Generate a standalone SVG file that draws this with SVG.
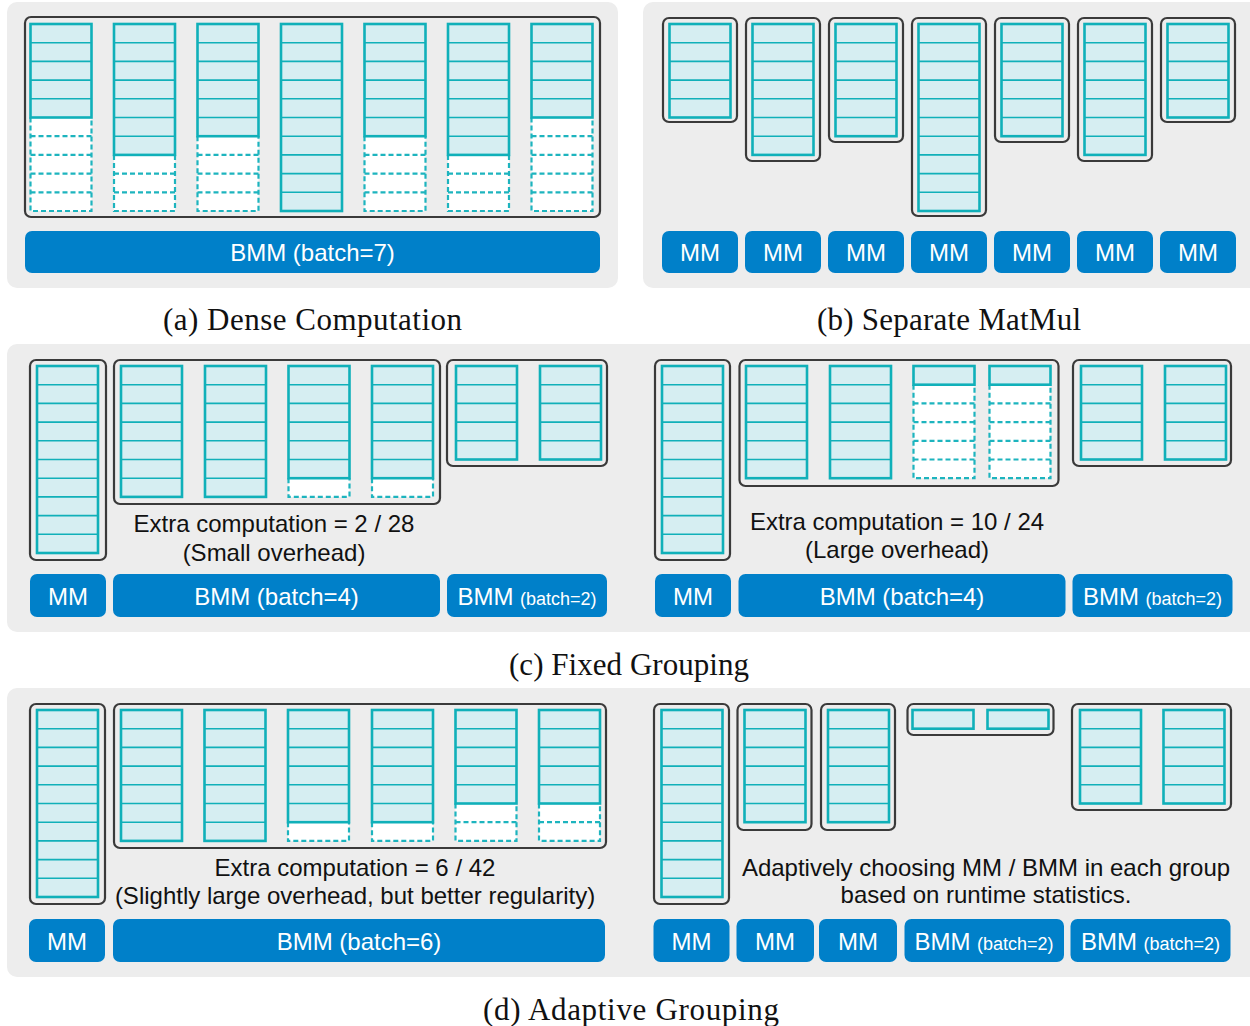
<svg xmlns="http://www.w3.org/2000/svg" width="1250" height="1026" viewBox="0 0 1250 1026">
<style>
.bg{fill:#EDEDED}
.grp{fill:none;stroke:#3A3A3A;stroke-width:2.2}
.col{fill:#D6EEF2;stroke:#10B0B9;stroke-width:2.6}
.div{fill:none;stroke:#10B0B9;stroke-width:1.6}
.pad{fill:#FFFFFF}
.dash{fill:none;stroke:#1DB4BE;stroke-width:2.2;stroke-dasharray:5 3}
.btn{fill:#0080C9}
.bt{fill:#FFFFFF;font-family:"Liberation Sans",Arial,sans-serif;font-size:24px;text-anchor:middle}
.sm{font-size:18px}
.note{fill:#111111;font-family:"Liberation Sans",Arial,sans-serif;font-size:24px;text-anchor:middle}
.cap{fill:#111111;font-family:"Liberation Serif","Times New Roman",serif;font-size:31px;text-anchor:middle}
</style>
<defs>
<g id="c1"><rect class="col" width="61" height="18.7"/></g>
<g id="c5"><rect class="col" width="61" height="93.5"/><path class="div" d="M0 18.7h61M0 37.4h61M0 56.1h61M0 74.8h61"/></g>
<g id="c6"><rect class="col" width="61" height="112.2"/><path class="div" d="M0 18.7h61M0 37.4h61M0 56.1h61M0 74.8h61M0 93.5h61"/></g>
<g id="c7"><rect class="col" width="61" height="130.9"/><path class="div" d="M0 18.7h61M0 37.4h61M0 56.1h61M0 74.8h61M0 93.5h61M0 112.2h61"/></g>
<g id="c10"><rect class="col" width="61" height="187"/><path class="div" d="M0 18.7h61M0 37.4h61M0 56.1h61M0 74.8h61M0 93.5h61M0 112.2h61M0 130.9h61M0 149.6h61M0 168.3h61"/></g>
<g id="d1"><rect class="pad" width="61" height="18.7"/><path class="dash" d="M0 0V18.7H61V0"/></g>
<g id="d2"><rect class="pad" width="61" height="37.4"/><path class="dash" d="M0 0V37.4H61V0M0 18.7H61"/></g>
<g id="d3"><rect class="pad" width="61" height="56.1"/><path class="dash" d="M0 0V56.1H61V0M0 18.7H61M0 37.4H61"/></g>
<g id="d4"><rect class="pad" width="61" height="74.8"/><path class="dash" d="M0 0V74.8H61V0M0 18.7H61M0 37.4H61M0 56.1H61"/></g>
<g id="d5"><rect class="pad" width="61" height="93.5"/><path class="dash" d="M0 0V93.5H61V0M0 18.7H61M0 37.4H61M0 56.1H61M0 74.8H61"/></g>
</defs>

<!-- Panel backgrounds -->
<rect class="bg" x="7" y="2" width="611" height="286" rx="10"/>
<rect class="bg" x="643" y="2" width="620" height="286" rx="10"/>
<rect class="bg" x="7" y="344" width="1256" height="288" rx="10"/>
<rect class="bg" x="7" y="688" width="1256" height="289" rx="10"/>

<!-- (a) Dense Computation -->
<g id="a-bmm7-group">
<rect class="grp" x="25" y="17" width="575" height="200" rx="6"/>
<use href="#d5" x="30.5" y="117.5"/><use href="#d3" x="114" y="154.9"/><use href="#d4" x="197.5" y="136.2"/>
<use href="#d4" x="364.5" y="136.2"/><use href="#d3" x="448" y="154.9"/><use href="#d5" x="531.5" y="117.5"/>
<use href="#c5" x="30.5" y="24"/><use href="#c7" x="114" y="24"/><use href="#c6" x="197.5" y="24"/>
<use href="#c10" x="281" y="24"/><use href="#c6" x="364.5" y="24"/><use href="#c7" x="448" y="24"/>
<use href="#c5" x="531.5" y="24"/>
</g>
<g id="a-bmm7-op"><rect class="btn" x="25" y="231" width="575" height="42" rx="7"/><text class="bt" x="312.5" y="261">BMM (batch=7)</text></g>
<text class="cap" x="312.5" y="330" textLength="299">(a) Dense Computation</text>

<!-- (b) Separate MatMul -->
<g id="b-group1"><rect class="grp" x="663" y="18" width="74" height="104" rx="6"/><use href="#c5" x="669.5" y="24"/></g>
<g id="b-group2"><rect class="grp" x="746" y="18" width="74" height="143" rx="6"/><use href="#c7" x="752.5" y="24"/></g>
<g id="b-group3"><rect class="grp" x="829" y="18" width="74" height="124" rx="6"/><use href="#c6" x="835.5" y="24"/></g>
<g id="b-group4"><rect class="grp" x="912" y="18" width="74" height="198" rx="6"/><use href="#c10" x="918.5" y="24"/></g>
<g id="b-group5"><rect class="grp" x="995" y="18" width="74" height="124" rx="6"/><use href="#c6" x="1001.5" y="24"/></g>
<g id="b-group6"><rect class="grp" x="1078" y="18" width="74" height="143" rx="6"/><use href="#c7" x="1084.5" y="24"/></g>
<g id="b-group7"><rect class="grp" x="1161" y="18" width="74" height="104" rx="6"/><use href="#c5" x="1167.5" y="24"/></g>
<g id="b-mm1"><rect class="btn" x="662" y="231" width="76" height="42" rx="7"/><text class="bt" x="700" y="261">MM</text></g>
<g id="b-mm2"><rect class="btn" x="745" y="231" width="76" height="42" rx="7"/><text class="bt" x="783" y="261">MM</text></g>
<g id="b-mm3"><rect class="btn" x="828" y="231" width="76" height="42" rx="7"/><text class="bt" x="866" y="261">MM</text></g>
<g id="b-mm4"><rect class="btn" x="911" y="231" width="76" height="42" rx="7"/><text class="bt" x="949" y="261">MM</text></g>
<g id="b-mm5"><rect class="btn" x="994" y="231" width="76" height="42" rx="7"/><text class="bt" x="1032" y="261">MM</text></g>
<g id="b-mm6"><rect class="btn" x="1077" y="231" width="76" height="42" rx="7"/><text class="bt" x="1115" y="261">MM</text></g>
<g id="b-mm7"><rect class="btn" x="1160" y="231" width="76" height="42" rx="7"/><text class="bt" x="1198" y="261">MM</text></g>
<text class="cap" x="949" y="330" textLength="264">(b) Separate MatMul</text>

<!-- (c) Fixed Grouping, left -->
<g id="c1-mm-group"><rect class="grp" x="30" y="360" width="76" height="200" rx="6"/><use href="#c10" x="37" y="366"/></g>
<g id="c1-bmm4-group">
<rect class="grp" x="114" y="360" width="326" height="144" rx="6"/>
<use href="#d1" x="288.5" y="478.2"/><use href="#d1" x="372" y="478.2"/>
<use href="#c7" x="121" y="366"/><use href="#c7" x="205" y="366"/><use href="#c6" x="288.5" y="366"/><use href="#c6" x="372" y="366"/>
</g>
<g id="c1-bmm2-group"><rect class="grp" x="447" y="360" width="160" height="106" rx="6"/><use href="#c5" x="456" y="366"/><use href="#c5" x="540" y="366"/></g>
<text class="note" x="274" y="532">Extra computation = 2 / 28</text>
<text class="note" x="274" y="561">(Small overhead)</text>
<g id="c1-mm"><rect class="btn" x="30" y="574" width="76" height="43" rx="7"/><text class="bt" x="68" y="605">MM</text></g>
<g id="c1-bmm4"><rect class="btn" x="113" y="574" width="327" height="43" rx="7"/><text class="bt" x="276.5" y="605">BMM (batch=4)</text></g>
<g id="c1-bmm2"><rect class="btn" x="447" y="574" width="160" height="43" rx="7"/><text class="bt" x="527" y="605">BMM <tspan class="sm">(batch=2)</tspan></text></g>

<!-- (c) Fixed Grouping, right -->
<g id="c2-mm-group"><rect class="grp" x="655" y="360" width="75" height="200" rx="6"/><use href="#c10" x="662" y="366"/></g>
<g id="c2-bmm4-group">
<rect class="grp" x="739.5" y="360" width="319" height="126" rx="6"/>
<use href="#d5" x="913.5" y="384.7"/><use href="#d5" x="989.5" y="384.7"/>
<use href="#c6" x="746" y="366"/><use href="#c6" x="830" y="366"/><use href="#c1" x="913.5" y="366"/><use href="#c1" x="989.5" y="366"/>
</g>
<g id="c2-bmm2-group"><rect class="grp" x="1073" y="360" width="158" height="106" rx="6"/><use href="#c5" x="1081" y="366"/><use href="#c5" x="1165" y="366"/></g>
<text class="note" x="897" y="530">Extra computation = 10 / 24</text>
<text class="note" x="897" y="558">(Large overhead)</text>
<g id="c2-mm"><rect class="btn" x="655" y="574" width="76" height="43" rx="7"/><text class="bt" x="693" y="605">MM</text></g>
<g id="c2-bmm4"><rect class="btn" x="738.5" y="574" width="327" height="43" rx="7"/><text class="bt" x="902" y="605">BMM (batch=4)</text></g>
<g id="c2-bmm2"><rect class="btn" x="1072.5" y="574" width="160" height="43" rx="7"/><text class="bt" x="1152.5" y="605">BMM <tspan class="sm">(batch=2)</tspan></text></g>
<text class="cap" x="629" y="675" textLength="240">(c) Fixed Grouping</text>

<!-- (d) Adaptive Grouping, left -->
<g id="d1-mm-group"><rect class="grp" x="30" y="704" width="75" height="200" rx="6"/><use href="#c10" x="37" y="710"/></g>
<g id="d1-bmm6-group">
<rect class="grp" x="114" y="704" width="492" height="144" rx="6"/>
<use href="#d1" x="288" y="822.2"/><use href="#d1" x="372" y="822.2"/><use href="#d2" x="455.5" y="803.5"/><use href="#d2" x="539" y="803.5"/>
<use href="#c7" x="121" y="710"/><use href="#c7" x="204.5" y="710"/><use href="#c6" x="288" y="710"/><use href="#c6" x="372" y="710"/>
<use href="#c5" x="455.5" y="710"/><use href="#c5" x="539" y="710"/>
</g>
<text class="note" x="355" y="876">Extra computation = 6 / 42</text>
<text class="note" x="355" y="904">(Slightly large overhead, but better regularity)</text>
<g id="d1-mm"><rect class="btn" x="29" y="919" width="76" height="43" rx="7"/><text class="bt" x="67" y="950">MM</text></g>
<g id="d1-bmm6"><rect class="btn" x="113" y="919" width="492" height="43" rx="7"/><text class="bt" x="359" y="950">BMM (batch=6)</text></g>

<!-- (d) Adaptive Grouping, right -->
<g id="d2-mm-group1"><rect class="grp" x="654" y="704" width="75" height="200" rx="6"/><use href="#c10" x="661.5" y="710"/></g>
<g id="d2-mm-group2"><rect class="grp" x="737.5" y="704" width="74" height="126" rx="6"/><use href="#c6" x="744.5" y="710"/></g>
<g id="d2-mm-group3"><rect class="grp" x="821" y="704" width="74" height="126" rx="6"/><use href="#c6" x="828" y="710"/></g>
<g id="d2-bmm2-group1"><rect class="grp" x="907.5" y="704" width="146" height="31" rx="6"/><use href="#c1" x="912.5" y="710"/><use href="#c1" x="987.5" y="710"/></g>
<g id="d2-bmm2-group2"><rect class="grp" x="1072" y="704" width="159" height="106" rx="6"/><use href="#c5" x="1080" y="710"/><use href="#c5" x="1163.5" y="710"/></g>
<text class="note" x="986" y="876">Adaptively choosing MM / BMM in each group</text>
<text class="note" x="986" y="903">based on runtime statistics.</text>
<g id="d2-mm1"><rect class="btn" x="653.5" y="919" width="76" height="43" rx="7"/><text class="bt" x="691.5" y="950">MM</text></g>
<g id="d2-mm2"><rect class="btn" x="736.5" y="919" width="77.5" height="43" rx="7"/><text class="bt" x="775" y="950">MM</text></g>
<g id="d2-mm3"><rect class="btn" x="819" y="919" width="78" height="43" rx="7"/><text class="bt" x="858" y="950">MM</text></g>
<g id="d2-bmm2a"><rect class="btn" x="904.5" y="919" width="159.5" height="43" rx="7"/><text class="bt" x="984" y="950">BMM <tspan class="sm">(batch=2)</tspan></text></g>
<g id="d2-bmm2b"><rect class="btn" x="1070.5" y="919" width="160" height="43" rx="7"/><text class="bt" x="1150.5" y="950">BMM <tspan class="sm">(batch=2)</tspan></text></g>
<text class="cap" x="631" y="1020" textLength="296">(d) Adaptive Grouping</text>
</svg>
